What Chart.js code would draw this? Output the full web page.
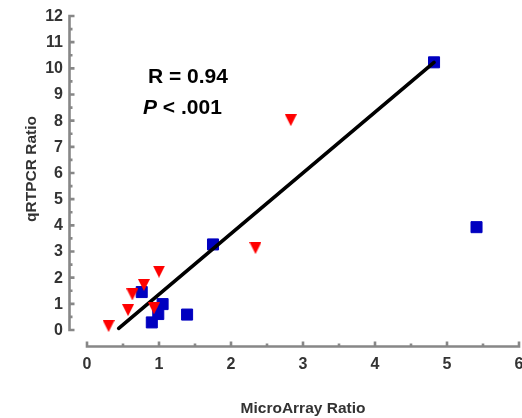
<!DOCTYPE html>
<html>
<head>
<meta charset="utf-8">
<script src="https://cdn.jsdelivr.net/npm/chart.js@4"></script>
<style>
  html, body { margin: 0; padding: 0; background: #fff; overflow: hidden; }
  canvas { display: block; }
</style>
</head>
<body>
<canvas id="chart" width="522" height="418"></canvas>
<script>
"use strict";
// MicroArray vs qRTPCR ratio scatter with fitted line

const xTicks = [0, 1, 2, 3, 4, 5, 6];
const yTicks = [0, 1, 2, 3, 4, 5, 6, 7, 8, 9, 10, 11, 12];

// blue squares
const squareX = [0.76, 1.05, 0.99, 0.90, 1.39, 1.75, 4.82, 5.41];
const squareY = [1.45, 0.99, 0.61, 0.29, 0.59, 3.27, 10.23, 3.93];

// red triangles
const triX = [0.30, 0.57, 0.63, 0.79, 1.00, 0.93, 2.34, 2.83];
const triY = [0.15, 0.76, 1.36, 1.72, 2.23, 0.83, 3.13, 8.02];

// regression line ends
const lineX = [0.44, 4.82];
const lineY = [0.06, 10.23];

const statR = "R = 0.94";
const statP = ".001";

const AXIS_COLOR = "#878787";
const TEXT_COLOR = "#333";
const FONT = "'Liberation Sans', Arial, sans-serif";

Chart.defaults.font.family = FONT;

function toPoints(xs, ys) {
    return xs.map((x, i) => ({ x: x, y: ys[i] }));
}

// down-pointing triangle marker
function makeTriangle(w, h, color) {
    const c = document.createElement("canvas");
    c.width = w;
    c.height = h;
    const g = c.getContext("2d");
    g.fillStyle = color;
    g.beginPath();
    g.moveTo(0, 0);
    g.lineTo(w, 0);
    g.lineTo(w / 2, h);
    g.closePath();
    g.fill();
    return c;
}

// axes are drawn by hand: detached y and x lines with inward ticks
const axesPlugin = {
    id: "prismAxes",
    beforeDatasetsDraw(chart) {
        const ctx = chart.ctx;
        const xs = chart.scales.x;
        const ys = chart.scales.y;
        const ax = chart.chartArea.left - 0.5;
        const ay = chart.chartArea.bottom + 0.5;
        ctx.save();
        ctx.strokeStyle = AXIS_COLOR;
        ctx.lineWidth = 2.6;
        ctx.lineCap = "butt";

        // y axis
        ctx.beginPath();
        ctx.moveTo(ax, ys.getPixelForValue(yTicks[yTicks.length - 1]) - 1.3);
        ctx.lineTo(ax, ys.getPixelForValue(yTicks[0]) + 1.3);
        for (let v = yTicks[0]; v <= yTicks[yTicks.length - 1]; v += 0.5) {
            const py = ys.getPixelForValue(v);
            const len = Number.isInteger(v) ? 5 : 3;
            ctx.moveTo(ax, py);
            ctx.lineTo(ax + len, py);
        }
        ctx.stroke();

        // x axis
        ctx.beginPath();
        ctx.moveTo(xs.getPixelForValue(xTicks[0]) - 1.3, ay);
        ctx.lineTo(xs.getPixelForValue(xTicks[xTicks.length - 1]) + 1.3, ay);
        for (let v = xTicks[0]; v <= xTicks[xTicks.length - 1]; v += 0.5) {
            const px = xs.getPixelForValue(v);
            const len = Number.isInteger(v) ? 5 : 3;
            ctx.moveTo(px, ay);
            ctx.lineTo(px, ay - len);
        }
        ctx.stroke();

        // tick labels
        ctx.fillStyle = TEXT_COLOR;
        ctx.font = "bold 16px " + FONT;
        ctx.textAlign = "right";
        ctx.textBaseline = "middle";
        yTicks.forEach(v => ctx.fillText(String(v), ax - 6.5, ys.getPixelForValue(v) + 0.5));
        ctx.textAlign = "center";
        ctx.textBaseline = "top";
        xTicks.forEach(v => ctx.fillText(String(v), xs.getPixelForValue(v), ay + 10.5));

        // axis titles
        ctx.font = "bold 15.5px " + FONT;
        ctx.textBaseline = "alphabetic";
        const xMid = (xs.getPixelForValue(xTicks[0]) + xs.getPixelForValue(xTicks[xTicks.length - 1])) / 2;
        ctx.fillText("MicroArray Ratio", xMid, 413);

        ctx.translate(36, (ys.getPixelForValue(yTicks[0]) + ys.getPixelForValue(yTicks[yTicks.length - 1])) / 2 - 4);
        ctx.rotate(-Math.PI / 2);
        ctx.fillText("qRTPCR Ratio", 0, 0);
        ctx.restore();
    },
    afterDatasetsDraw(chart) {
        const ctx = chart.ctx;
        ctx.save();
        ctx.fillStyle = "#000";
        ctx.textBaseline = "alphabetic";
        ctx.textAlign = "left";
        ctx.font = "bold 21px " + FONT;
        ctx.fillText(statR, 148, 83);
        ctx.font = "italic bold 21px " + FONT;
        ctx.fillText("P", 143, 114);
        const pw = ctx.measureText("P").width;
        ctx.font = "bold 21px " + FONT;
        ctx.fillText(" < " + statP, 143 + pw, 114);
        ctx.restore();
    }
};

const ctx = document.getElementById("chart").getContext("2d");
new Chart(ctx, {
    type: "scatter",
    data: {
        datasets: [
            {
                label: "down",
                data: toPoints(triX, triY),
                pointStyle: makeTriangle(12, 12, "#ff0000"),
                pointRadius: 6,
                order: 0,
            },
            {
                label: "fit",
                type: "line",
                data: toPoints(lineX, lineY),
                borderColor: "#000",
                borderWidth: 3.6,
                borderCapStyle: "round",
                pointRadius: 0,
                fill: false,
                order: 1,
            },
            {
                label: "up",
                data: toPoints(squareX, squareY),
                pointStyle: "rect",
                pointRadius: 7.8,
                backgroundColor: "#0000c0",
                borderColor: "#0000c0",
                borderWidth: 1,
                order: 2,
            },
        ],
    },
    options: {
        responsive: false,
        animation: false,
        layout: {
            autoPadding: false,
            padding: { top: 16, right: 3, left: 0, bottom: 0 },
        },
        scales: {
            x: {
                type: "linear",
                min: -17 / 72,
                max: 6,
                afterFit: (s) => { s.height = 72; },
                grid: { display: false },
                border: { display: false },
                ticks: { display: false },
            },
            y: {
                type: "linear",
                min: -16 / 26.17,
                max: 12,
                afterFit: (s) => { s.width = 70; },
                grid: { display: false },
                border: { display: false },
                ticks: { display: false },
            },
        },
        plugins: {
            legend: { display: false },
            tooltip: { enabled: false },
        },
    },
    plugins: [axesPlugin],
});
</script>
</body>
</html>
